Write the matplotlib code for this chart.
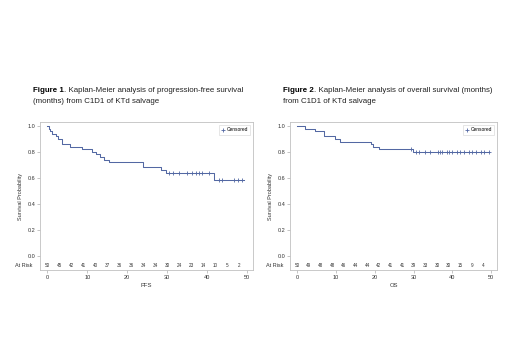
import numpy as np
import matplotlib
matplotlib.use('Agg')
import matplotlib.pyplot as plt

plt.rcParams['font.family'] = ['Liberation Sans', 'DejaVu Sans']

# PFS curve: event times (months) and survival after each step
pfs_times = [0, 0.4, 0.8, 1.2, 2.2, 2.8, 3.6, 5.8, 8.7, 11.2, 12.2, 13.3, 14.3, 15.5, 24.0, 28.4, 29.6, 41.6]
pfs_surv = [1.0, 0.98, 0.96, 0.94, 0.92, 0.90, 0.86, 0.84, 0.82, 0.80, 0.78, 0.76, 0.74, 0.72, 0.68, 0.66, 0.64, 0.58]
pfs_end = 49.1
pfs_censor = [30.4, 31.5, 32.9, 35.0, 36.2, 37.1, 37.9, 38.7, 40.4, 42.9, 43.7, 46.6, 47.8, 48.7]
pfs_at_risk = [50, 45, 42, 41, 40, 37, 36, 36, 34, 34, 30, 24, 23, 14, 10, 5, 2]

# OS curve
os_times = [0, 2.0, 4.6, 6.8, 9.8, 11.1, 18.9, 19.5, 21.1, 29.9]
os_surv = [1.0, 0.98, 0.96, 0.92, 0.90, 0.88, 0.86, 0.84, 0.82, 0.80]
os_end = 49.3
os_censor = [29.3, 30.6, 31.5, 32.8, 34.1, 36.2, 36.7, 37.2, 38.5, 39.0, 39.9, 41.2,
             42.0, 42.9, 44.2, 45.1, 46.0, 47.3, 48.2, 49.3]
os_at_risk = [50, 49, 48, 48, 46, 44, 44, 42, 41, 41, 39, 33, 30, 30, 15, 9, 4]

risk_times = list(range(0, 49, 3))

line_color = '#5368a3'
grey = '#9a9a9a'


def surv_at(times, surv, t):
    idx = np.searchsorted(times, t, side='right') - 1
    return surv[idx]


def km_panel(fig, rect, times, surv, end, censor, at_risk, xlabel):
    ax = fig.add_axes(rect)
    xs = list(times) + [end]
    ys = list(surv) + [surv[-1]]
    ax.step(xs, ys, where='post', color=line_color, lw=0.75)
    cy = [surv_at(times, surv, c) for c in censor]
    ax.plot(censor, cy, ls='none', marker='+', ms=3, mew=0.6, color=line_color,
            label='Censored')

    ax.set_xlim(-1.8, 51.5)
    ax.set_ylim(-0.11, 1.03)
    ax.set_xticks(range(0, 51, 10))
    ax.set_yticks(np.arange(0, 1.01, 0.2))
    ax.set_yticklabels(['%.1f' % v for v in np.arange(0, 1.01, 0.2)])
    ax.tick_params(labelsize=4, length=2, width=0.4, color=grey, pad=1.5,
                   labelcolor='#333333')
    for s in ax.spines.values():
        s.set_color('#c0c0c0')
        s.set_linewidth(0.6)

    for t, n in zip(risk_times, at_risk):
        ax.text(t, -0.078, str(n), ha='center', va='center', fontsize=3.3,
                color='#333333')
    ax.text(-0.035, -0.078, 'At Risk', transform=ax.get_yaxis_transform(),
            ha='right', va='center', fontsize=4, color='#333333')

    ax.set_xlabel(xlabel, fontsize=4.2, labelpad=2, color='#333333')
    ax.set_ylabel('Survival Probability', fontsize=4, labelpad=3, color='#333333')

    leg = ax.legend(loc='upper right', fontsize=3.5, frameon=True, fancybox=False,
                    handlelength=0.6, handletextpad=0.5, borderpad=0.5,
                    borderaxespad=0.6)
    leg.get_frame().set_edgecolor('#c8c8c8')
    leg.get_frame().set_linewidth(0.4)
    return ax


fig = plt.figure(figsize=(5.2, 3.6), dpi=100)

km_panel(fig, [0.077, 0.25, 0.41, 0.411], pfs_times, pfs_surv, pfs_end,
         pfs_censor, pfs_at_risk, 'PFS')
km_panel(fig, [0.558, 0.25, 0.398, 0.411], os_times, os_surv, os_end,
         os_censor, os_at_risk, 'OS')


def fig_title(x, y, num, rest_lines):
    fs = 5.65
    b = fig.text(x, y, 'Figure %d' % num, fontsize=fs, fontweight='bold',
                 ha='left', va='baseline')
    fig.canvas.draw()
    bb = b.get_window_extent().transformed(fig.transFigure.inverted())
    fig.text(bb.x1, y, rest_lines[0], fontsize=fs, ha='left', va='baseline',
             color='#222222')
    fig.text(x, y - 0.031, rest_lines[1], fontsize=fs, ha='left', va='baseline',
             color='#222222')


fig_title(0.063, 0.745, 1, ['. Kaplan-Meier analysis of progression-free survival',
                            '(months) from C1D1 of KTd salvage'])
fig_title(0.545, 0.745, 2, ['. Kaplan-Meier analysis of overall survival (months)',
                            'from C1D1 of KTd salvage'])

fig.savefig('out.png', dpi=100)
